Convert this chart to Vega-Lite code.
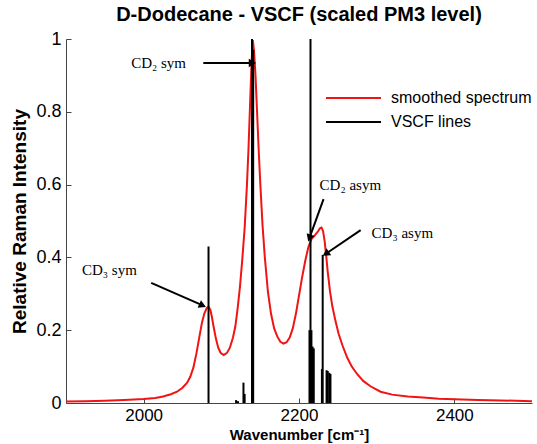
{
  "$schema": "https://vega.github.io/schema/vega-lite/v6.json",
  "width": 466,
  "height": 364,
  "autosize": {"type": "none"},
  "padding": {"left": 66, "top": 39, "right": 5, "bottom": 41},
  "background": "white",
  "title": {"text": "D-Dodecane - VSCF (scaled PM3 level)", "font": "Liberation Sans", "fontSize": 20, "fontWeight": "bold", "color": "black", "anchor": "middle", "frame": "group", "offset": 5},
  "config": {
    "view": {"stroke": null},
    "axis": {"domainColor": "#444", "tickColor": "#444", "labelFont": "Liberation Sans", "titleFont": "Liberation Sans", "labelColor": "black", "titleColor": "black", "grid": false, "titleFontWeight": "bold"}
  },
  "datasets": {
    "spectrum": [
      {"wn": 1900, "int": 0.004}, {"wn": 1925, "int": 0.005}, {"wn": 1950, "int": 0.006}, {"wn": 1975, "int": 0.008},
      {"wn": 2000, "int": 0.011}, {"wn": 2015, "int": 0.014}, {"wn": 2025, "int": 0.018}, {"wn": 2035, "int": 0.024},
      {"wn": 2043, "int": 0.031}, {"wn": 2050, "int": 0.042}, {"wn": 2056, "int": 0.056}, {"wn": 2060, "int": 0.072},
      {"wn": 2064, "int": 0.097}, {"wn": 2068, "int": 0.137}, {"wn": 2072, "int": 0.185}, {"wn": 2075, "int": 0.22},
      {"wn": 2078, "int": 0.245}, {"wn": 2081, "int": 0.26}, {"wn": 2083.5, "int": 0.265}, {"wn": 2086, "int": 0.255},
      {"wn": 2088, "int": 0.235}, {"wn": 2090, "int": 0.21}, {"wn": 2093, "int": 0.177}, {"wn": 2096, "int": 0.152},
      {"wn": 2099, "int": 0.138}, {"wn": 2103, "int": 0.132}, {"wn": 2107, "int": 0.137}, {"wn": 2111, "int": 0.152},
      {"wn": 2115, "int": 0.18}, {"wn": 2118, "int": 0.21}, {"wn": 2121, "int": 0.26}, {"wn": 2124, "int": 0.32},
      {"wn": 2127, "int": 0.395}, {"wn": 2130, "int": 0.48}, {"wn": 2133, "int": 0.6}, {"wn": 2135, "int": 0.7},
      {"wn": 2137, "int": 0.82}, {"wn": 2139, "int": 0.94}, {"wn": 2140.5, "int": 0.997}, {"wn": 2142, "int": 0.97},
      {"wn": 2144, "int": 0.9}, {"wn": 2146, "int": 0.8}, {"wn": 2148, "int": 0.7}, {"wn": 2150, "int": 0.61},
      {"wn": 2153, "int": 0.49}, {"wn": 2156, "int": 0.4}, {"wn": 2160, "int": 0.305}, {"wn": 2164, "int": 0.245},
      {"wn": 2168, "int": 0.205}, {"wn": 2172, "int": 0.183}, {"wn": 2176, "int": 0.168}, {"wn": 2180, "int": 0.163},
      {"wn": 2184, "int": 0.167}, {"wn": 2188, "int": 0.18}, {"wn": 2192, "int": 0.205}, {"wn": 2196, "int": 0.245},
      {"wn": 2200, "int": 0.295}, {"wn": 2204, "int": 0.345}, {"wn": 2208, "int": 0.39}, {"wn": 2212, "int": 0.428},
      {"wn": 2216, "int": 0.45}, {"wn": 2220, "int": 0.46}, {"wn": 2224, "int": 0.47}, {"wn": 2227, "int": 0.48},
      {"wn": 2229, "int": 0.482}, {"wn": 2231, "int": 0.472}, {"wn": 2233, "int": 0.445}, {"wn": 2235, "int": 0.405},
      {"wn": 2237, "int": 0.36}, {"wn": 2240, "int": 0.305}, {"wn": 2243, "int": 0.265}, {"wn": 2247, "int": 0.225},
      {"wn": 2251, "int": 0.19}, {"wn": 2256, "int": 0.158}, {"wn": 2262, "int": 0.125}, {"wn": 2268, "int": 0.1},
      {"wn": 2275, "int": 0.079}, {"wn": 2283, "int": 0.06}, {"wn": 2292, "int": 0.046}, {"wn": 2305, "int": 0.031},
      {"wn": 2320, "int": 0.023}, {"wn": 2340, "int": 0.018}, {"wn": 2360, "int": 0.015}, {"wn": 2380, "int": 0.012},
      {"wn": 2400, "int": 0.01}, {"wn": 2430, "int": 0.008}, {"wn": 2460, "int": 0.007}, {"wn": 2500, "int": 0.005}
    ],
    "sticks": [
      {"wn": 2083.5, "int": 0.43}, {"wn": 2119, "int": 0.008}, {"wn": 2121.5, "int": 0.005}, {"wn": 2128.5, "int": 0.056},
      {"wn": 2130, "int": 0.025}, {"wn": 2139.5, "int": 1.0}, {"wn": 2141, "int": 0.97}, {"wn": 2213.5, "int": 0.2},
      {"wn": 2214.8, "int": 1.0}, {"wn": 2216, "int": 0.2}, {"wn": 2217.5, "int": 0.155}, {"wn": 2219, "int": 0.15},
      {"wn": 2229.5, "int": 0.093}, {"wn": 2230.5, "int": 0.407}, {"wn": 2235.5, "int": 0.09}, {"wn": 2237, "int": 0.088},
      {"wn": 2239, "int": 0.083}, {"wn": 2240.5, "int": 0.08}
    ],
    "arrows": [
      {"x1": 2076.8, "y1": 0.934, "x2": 2140.0, "y2": 0.934, "ang": 0},
      {"x1": 2231.6, "y1": 0.56, "x2": 2213.4, "y2": 0.453, "ang": 109.8},
      {"x1": 2279.4, "y1": 0.475, "x2": 2234.6, "y2": 0.41, "ang": 145.6},
      {"x1": 2009.7, "y1": 0.33, "x2": 2075.9, "y2": 0.268, "ang": 23.6}
    ],
    "labels": [
      {"wn": 1983.9, "int": 0.934, "txt": "CD₂ sym"},
      {"wn": 2226.5, "int": 0.599, "txt": "CD₂ asym"},
      {"wn": 2293.5, "int": 0.467, "txt": "CD₃ asym"},
      {"wn": 1920.6, "int": 0.365, "txt": "CD₃ sym"}
    ]
  },
  "layer": [
    {
      "data": {"name": "spectrum"},
      "transform": [{"calculate": "'smoothed spectrum'", "as": "series"}],
      "mark": {"type": "line", "strokeWidth": 2, "clip": true},
      "encoding": {
        "x": {"field": "wn", "type": "quantitative", "scale": {"domain": [1900, 2500], "nice": false, "zero": false},
          "axis": {"values": [2000, 2200, 2400], "format": "d", "title": "Wavenumber [cm⁻¹]", "titleFontSize": 15, "labelFontSize": 17, "tickSize": -5, "labelPadding": 9, "titlePadding": 4, "labelFlush": false}},
        "y": {"field": "int", "type": "quantitative", "scale": {"domain": [0, 1], "nice": false},
          "axis": {"values": [0, 0.2, 0.4, 0.6, 0.8, 1], "format": ".1~f", "title": "Relative Raman Intensity", "titleFontSize": 19, "labelFontSize": 18, "tickSize": -5, "labelPadding": 10, "titlePadding": 6, "labelFlush": false}},
        "color": {"field": "series", "type": "nominal",
          "scale": {"domain": ["smoothed spectrum", "VSCF lines"], "range": ["#f01414", "#000000"]},
          "legend": {"title": null, "orient": "none", "legendX": 259, "legendY": 48, "symbolType": "stroke", "symbolSize": 3025, "symbolStrokeWidth": 2, "labelFont": "Liberation Sans", "labelFontSize": 16, "labelColor": "black", "labelOffset": 9, "padding": 0, "rowPadding": 2, "clipHeight": 22}}
      }
    },
    {
      "data": {"name": "sticks"},
      "transform": [{"calculate": "'VSCF lines'", "as": "series"}],
      "mark": {"type": "rule", "strokeWidth": 2},
      "encoding": {
        "x": {"field": "wn", "type": "quantitative"},
        "y": {"field": "int", "type": "quantitative"},
        "y2": {"datum": 0},
        "color": {"field": "series", "type": "nominal"}
      }
    },
    {
      "data": {"name": "arrows"},
      "mark": {"type": "rule", "strokeWidth": 2, "color": "black"},
      "encoding": {
        "x": {"field": "x1", "type": "quantitative"},
        "y": {"field": "y1", "type": "quantitative"},
        "x2": {"field": "x2"},
        "y2": {"field": "y2"}
      }
    },
    {
      "data": {"name": "arrows"},
      "mark": {"type": "point", "shape": "triangle-right", "filled": true, "size": 70, "color": "black", "opacity": 1},
      "encoding": {
        "x": {"field": "x2", "type": "quantitative"},
        "y": {"field": "y2", "type": "quantitative"},
        "angle": {"field": "ang", "type": "quantitative", "scale": null}
      }
    },
    {
      "data": {"name": "labels"},
      "mark": {"type": "text", "font": "Liberation Serif", "fontSize": 15, "align": "left", "baseline": "middle", "color": "black"},
      "encoding": {
        "x": {"field": "wn", "type": "quantitative"},
        "y": {"field": "int", "type": "quantitative"},
        "text": {"field": "txt"}
      }
    }
  ]
}
